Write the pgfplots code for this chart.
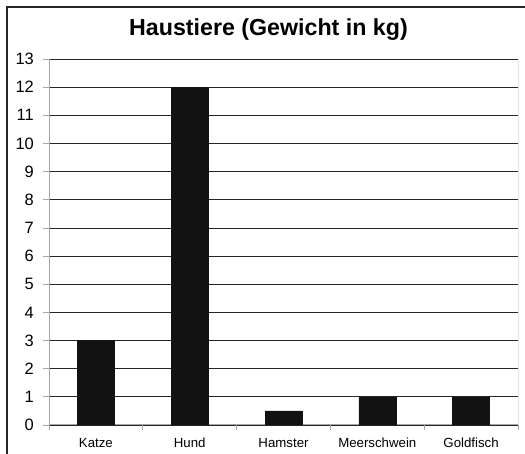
\documentclass[border=0pt]{standalone}
\usepackage{pgfplots}
\pgfplotsset{compat=1.18}
\usepackage{fontspec}
\setmainfont{Liberation Sans}
\begin{document}
\begin{tikzpicture}[x=1bp,y=1bp]
\path[use as bounding box] (0,0) rectangle (525,454);
\draw[line width=1.5bp, black!85] (7,0) -- (7,447) -- (525,447);
\node[font=\fontsize{23.3}{27}\selectfont\bfseries, anchor=base, inner sep=0pt] at (268.5,418) {Haustiere (Gewicht in kg)};
\begin{axis}[at={(49bp,29bp)}, anchor=south west, width=469bp, height=366bp, scale only axis,
  ymin=0, ymax=13, ytick={0,...,13},
  xmin=-0.5, xmax=4.5,
  xtick={0,...,4}, xticklabels={Katze,Hund,Hamster,Meerschwein,Goldfisch},
  minor xtick={-0.5,0.5,1.5,2.5,3.5,4.5},
  axis lines=left, axis line style={-, draw=black!35, line width=1bp},
  tick align=outside, major tick length=6bp, minor tick length=5bp,
  major x tick style={draw=none},
  minor x tick style={draw=black!35, line width=0.8bp},
  major y tick style={draw=black!35, line width=0.8bp},
  ymajorgrids, grid style={black!85, line width=0.7bp},
  /pgf/number format/assume math mode=true,
  y tick label style={font=\fontsize{16.5}{19}\selectfont, inner sep=0pt, xshift=-9bp},
  x tick label style={font=\fontsize{13.3}{16}\selectfont, anchor=base, inner sep=0pt, yshift=-17bp},
]
\addplot[ybar, bar width=37bp, fill=black!93, draw=black!93] coordinates {(0,3) (1,12) (2,0.5) (3,1) (4,1)};
\draw[black!85, line width=1bp] (rel axis cs:1,0) -- (rel axis cs:1,1);
\end{axis}
\end{tikzpicture}
\end{document}
